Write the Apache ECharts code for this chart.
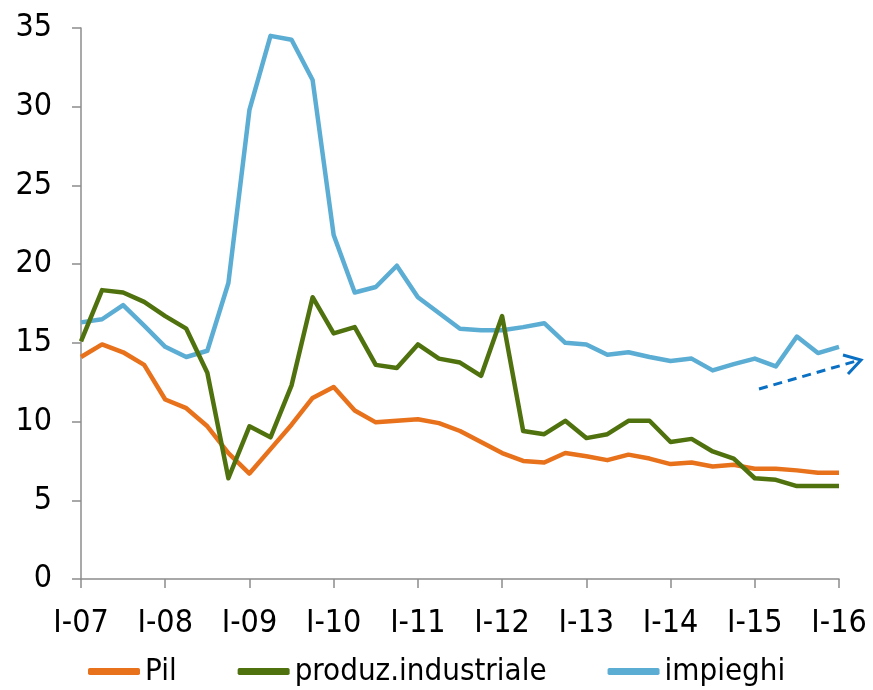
<!DOCTYPE html>
<html>
<head>
<meta charset="utf-8">
<script src="https://cdn.jsdelivr.net/npm/echarts@6/dist/echarts.min.js"></script>
<style>
  html, body { margin: 0; padding: 0; background: #fff; }
  #chart { width: 873px; height: 690px; }
</style>
</head>
<body>
<div id="chart"></div>
<script>
// Quarterly periods, Q1 2007 – Q1 2016
const years = ['07','08','09','10','11','12','13','14','15','16'];
const quarters = ['I','II','III','IV'];
const categories = [];
years.forEach((y, i) => {
  quarters.forEach((q, j) => {
    if (i < years.length - 1 || j === 0) categories.push(q + '-' + y);
  });
});

const pil = [
  14.1, 14.9, 14.4, 13.6,
  11.4, 10.85, 9.7, 8.0,
  6.7, 8.25, 9.8, 11.5,
  12.2, 10.7, 9.95, 10.05,
  10.15, 9.9, 9.4, 8.7,
  8.0, 7.5, 7.4, 8.0,
  7.8, 7.55, 7.9, 7.65,
  7.3, 7.4, 7.15, 7.25,
  7.0, 7.0, 6.9, 6.75,
  6.75
];

const produzIndustriale = [
  15.1, 18.35, 18.2, 17.6,
  16.7, 15.9, 13.1, 6.4,
  9.7, 9.0, 12.3, 17.9,
  15.6, 16.0, 13.6, 13.4,
  14.9, 14.0, 13.75, 12.9,
  16.7, 9.4, 9.2, 10.05,
  8.95, 9.2, 10.05, 10.05,
  8.7, 8.9, 8.1, 7.65,
  6.4, 6.3, 5.9, 5.9,
  5.9
];

const impieghi = [
  16.3, 16.5, 17.4, 16.1,
  14.75, 14.1, 14.5, 18.8,
  29.8, 34.5, 34.25, 31.7,
  21.85, 18.2, 18.55, 19.9,
  17.9, 16.9, 15.9, 15.8,
  15.8, 16.0, 16.25, 15.0,
  14.9, 14.25, 14.4, 14.1,
  13.85, 14.0, 13.25, 13.65,
  14.0, 13.5, 15.4, 14.35,
  14.75
];

const seriesNames = ['Pil', 'produz.industriale', 'impieghi'];
const seriesColors = ['#E8711C', '#50720E', '#5CADD4'];
const yTicks = [0, 5, 10, 15, 20, 25, 30, 35];

const FONT = '"DejaVu Sans Condensed", "Liberation Sans Narrow", sans-serif';

const chart = echarts.init(document.getElementById('chart'), null, { renderer: 'canvas' });

const lineSeries = [pil, produzIndustriale, impieghi].map((data, i) => ({
  name: seriesNames[i],
  type: 'line',
  data: data,
  symbol: 'none',
  showSymbol: false,
  smooth: false,
  lineStyle: { width: 4.5, color: seriesColors[i], join: 'round', cap: 'butt' },
  itemStyle: { color: seriesColors[i] },
  z: 3 + (i === 1 ? 1 : 0)
}));

chart.setOption({
  animation: false,
  backgroundColor: '#ffffff',
  grid: { left: 81, right: 34, top: 28, bottom: 111, containLabel: false },
  legend: {
    bottom: -2,
    left: 83,
    itemWidth: 52,
    itemHeight: 7,
    itemGap: 61,
    icon: 'roundRect',
    data: seriesNames,
    textStyle: { fontFamily: FONT, fontSize: 31, color: '#000' }
  },
  xAxis: {
    type: 'category',
    data: categories,
    boundaryGap: false,
    axisLine: { lineStyle: { color: '#8C8C8C', width: 1.5 } },
    axisTick: { show: true, interval: 3, length: 9, lineStyle: { color: '#8C8C8C', width: 1.5 } },
    axisLabel: {
      interval: 3,
      margin: 29,
      fontFamily: FONT,
      fontSize: 32,
      color: '#000'
    },
    splitLine: { show: false }
  },
  yAxis: {
    type: 'value',
    min: yTicks[0],
    max: yTicks[yTicks.length - 1],
    interval: 5,
    axisLine: { show: true, lineStyle: { color: '#8C8C8C', width: 1.5 } },
    axisTick: { show: true, length: 9, lineStyle: { color: '#8C8C8C', width: 1.5 } },
    axisLabel: { margin: 29, fontFamily: FONT, fontSize: 32, color: '#000' },
    splitLine: { show: false }
  },
  series: lineSeries,
  graphic: [
    {
      // upward trend arrow for the latest quarters
      type: 'group',
      z: 10,
      children: [
        {
          type: 'line',
          shape: { x1: 759, y1: 389, x2: 860, y2: 360 },
          style: { stroke: '#0A70C4', lineWidth: 3, lineDash: [9, 6] }
        },
        {
          type: 'polyline',
          shape: { points: [[843, 355], [861, 360], [848, 374]] },
          style: { stroke: '#0A70C4', lineWidth: 3, fill: null }
        }
      ]
    }
  ]
});
</script>
</body>
</html>
